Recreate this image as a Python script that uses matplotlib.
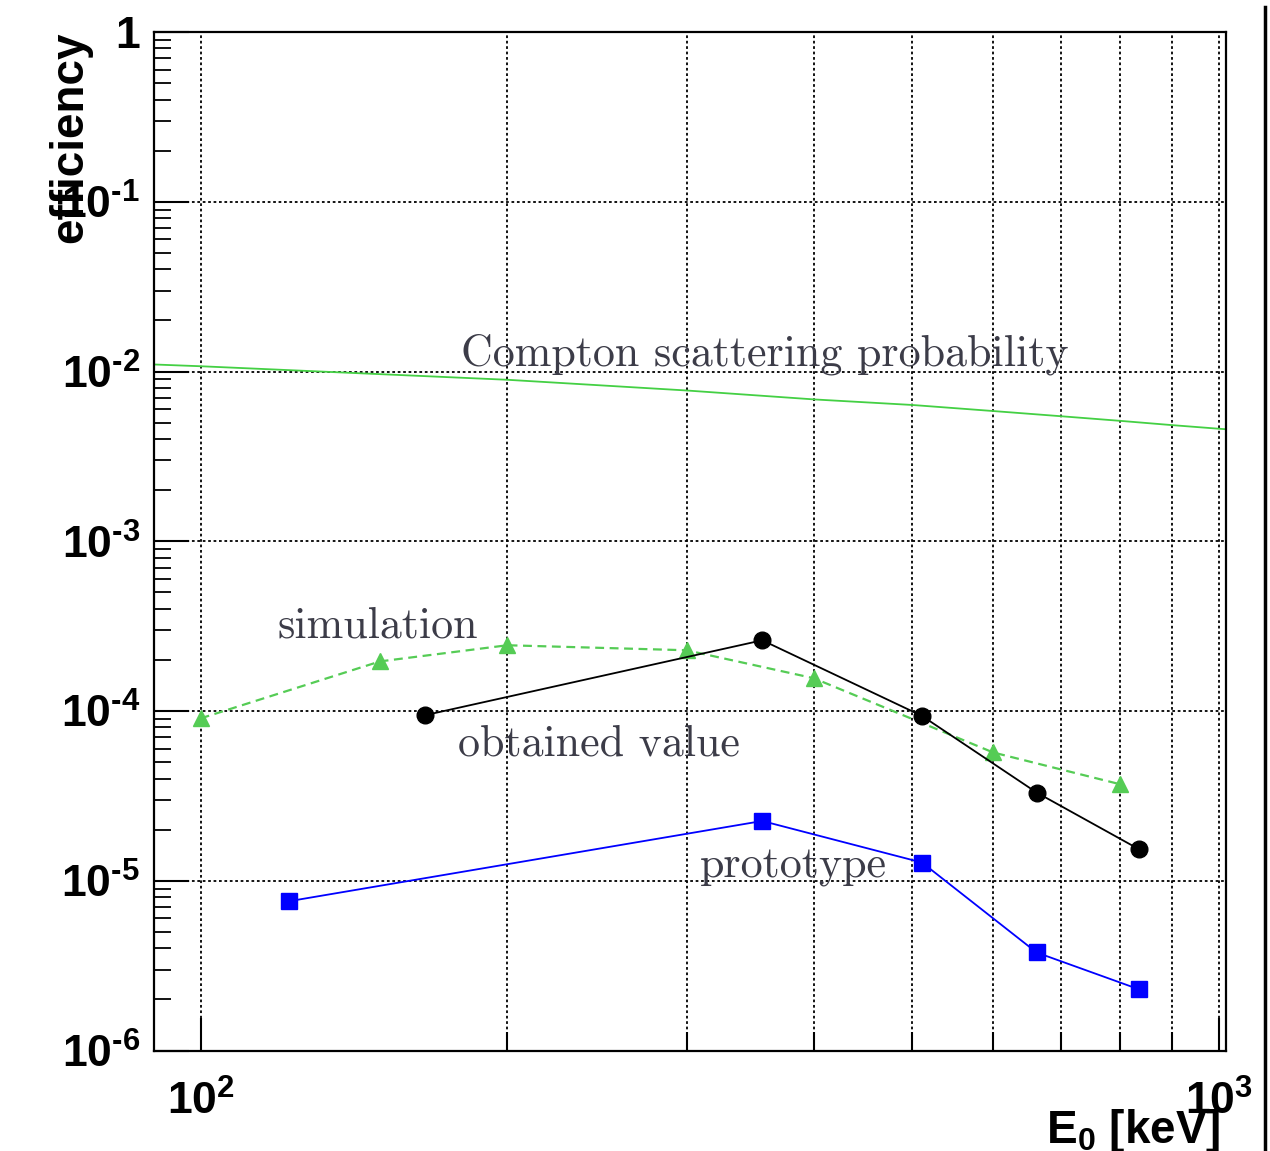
import matplotlib
matplotlib.use('Agg')
import matplotlib.pyplot as plt
from matplotlib.lines import Line2D
from matplotlib.ticker import FixedLocator, NullFormatter, LogLocator

# Compton scattering probability (smooth curve)
compton_e = [90, 100, 200, 300, 400, 500, 600, 700, 800, 900, 1000, 1016]
compton_p = [1.10e-2, 1.074e-2, 8.94e-3, 7.73e-3, 6.85e-3, 6.35e-3, 5.85e-3,
             5.45e-3, 5.12e-3, 4.83e-3, 4.60e-3, 4.57e-3]

# simulation
sim_e = [100, 150, 200, 300, 400, 600, 800]
sim_eff = [9.05e-5, 1.96e-4, 2.44e-4, 2.28e-4, 1.56e-4, 5.7e-5, 3.7e-5]

# obtained value
obt_e = [166, 356, 511, 662, 835]
obt_eff = [9.44e-5, 2.61e-4, 9.35e-5, 3.31e-5, 1.53e-5]

# prototype
proto_e = [122, 356, 511, 662, 835]
proto_eff = [7.57e-6, 2.25e-5, 1.28e-5, 3.78e-6, 2.29e-6]

ytick_vals = [1e-6, 1e-5, 1e-4, 1e-3, 1e-2, 1e-1, 1]
ytick_labels = [r'$10^{\text{-}6}$', r'$10^{\text{-}5}$', r'$10^{\text{-}4}$',
                r'$10^{\text{-}3}$', r'$10^{\text{-}2}$', r'$10^{\text{-}1}$', '1']
xtick_vals = [100, 1000]
xtick_labels = [r'$10^{2}$', r'$10^{3}$']
xgrid_minor = [200, 300, 400, 500, 600, 700, 800, 900]

plt.rcParams['font.family'] = ['Liberation Sans', 'DejaVu Sans']
plt.rcParams['mathtext.fontset'] = 'custom'
plt.rcParams['mathtext.rm'] = 'Liberation Sans:bold'
plt.rcParams['mathtext.it'] = 'Liberation Sans:bold'
plt.rcParams['mathtext.bf'] = 'Liberation Sans:bold'

fig = plt.figure(figsize=(12.7, 11.51), dpi=100)
ax = fig.add_axes([0.1213, 0.0873, 0.8441, 0.8849])

ax.set_xscale('log')
ax.set_yscale('log')
ax.set_xlim(90, 1016)
ax.set_ylim(1e-6, 1)

text_col = '#3c3c48'
green = '#55cc55'

ax.plot(compton_e, compton_p, color='#44d044', lw=1.3)
ax.plot(sim_e, sim_eff, color=green, lw=1.6, ls=(0, (4, 2.5)),
        marker='^', ms=12, mec=green, mfc=green)
ax.plot(obt_e, obt_eff, color='black', lw=1.3, marker='o', ms=12)
ax.plot(proto_e, proto_eff, color='#0000ff', lw=1.3, marker='s', ms=12)

serif = dict(family='cmr10', fontsize=31.7, color=text_col, va='baseline')
ax.text(180, 1.09e-2, 'Compton scattering probability', **serif)
ax.text(119, 2.72e-4, 'simulation', **serif)
ax.text(179, 5.49e-5, 'obtained value', **serif)
ax.text(309, 1.05e-5, 'prototype', **serif)

# ticks
ax.yaxis.set_major_locator(FixedLocator(ytick_vals))
ax.set_yticklabels(ytick_labels, fontsize=32, fontweight='bold')
ax.yaxis.set_minor_locator(LogLocator(base=10, subs=range(2, 10), numticks=20))
ax.yaxis.set_minor_formatter(NullFormatter())
ax.xaxis.set_major_locator(FixedLocator(xtick_vals))
ax.set_xticklabels(xtick_labels, fontsize=32, fontweight='bold')
ax.xaxis.set_minor_locator(FixedLocator(xgrid_minor))
ax.xaxis.set_minor_formatter(NullFormatter())

ax.tick_params(axis='y', which='major', direction='in', length=25, width=1.5,
               pad=10, left=True, right=False)
ax.tick_params(axis='y', which='minor', direction='in', length=12, width=1.3,
               left=True, right=False)
ax.tick_params(axis='x', which='major', direction='in', length=24, width=1.5,
               pad=22, bottom=True, top=False)
ax.tick_params(axis='x', which='minor', direction='in', length=14, width=1.5,
               bottom=True, top=False)

ax.grid(True, which='both', axis='x', color='black', lw=1.3, ls=(0, (1.5, 1.5)))
ax.grid(True, which='major', axis='y', color='black', lw=1.3, ls=(0, (1.5, 1.5)))
ax.set_axisbelow(True)

for s in ax.spines.values():
    s.set_linewidth(1.6)

ax.set_ylabel('efficiency', fontsize=33, fontweight='bold', loc='top')
ax.yaxis.set_label_coords(-0.058, 1.0)
ax.set_xlabel(r'E$_{0}$ [keV]', fontsize=33, fontweight='bold', loc='right')
ax.xaxis.set_label_coords(0.995, -0.055)

# page border on the right
fig.add_artist(Line2D([1265 / 1270, 1265 / 1270], [0, 1 - 7 / 1151],
                      color='black', lw=2.5, transform=fig.transFigure))

fig.savefig('out.png', dpi=100)
